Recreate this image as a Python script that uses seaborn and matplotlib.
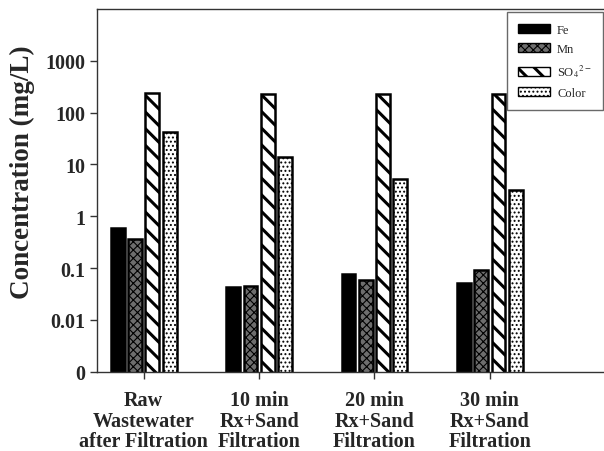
import numpy as np
import pandas as pd
import matplotlib
matplotlib.use("Agg")
import matplotlib.pyplot as plt
import seaborn as sns
from matplotlib.ticker import FixedLocator, NullLocator

# ---- data ----
groups = ["Raw\nWastewater\nafter Filtration", "10 min\nRx+Sand\nFiltration",
          "20 min\nRx+Sand\nFiltration", "30 min\nRx+Sand\nFiltration"]
series = ["Fe", "Mn", "SO$_4$$^{2-}$", "Color"]
fe = [0.59, 0.044, 0.077, 0.051]
mn = [0.37, 0.046, 0.059, 0.092]
so4 = [234, 226, 229, 228]
color = [42.5, 14.2, 5.2, 3.2]
ytick_vals = [0.001, 0.01, 0.1, 1, 10, 100, 1000]
ytick_labels = ["0", "0.01", "0.1", "1", "10", "100", "1000"]

rows = []
for name, vals in zip(series, [fe, mn, so4, color]):
    for g, v in zip(groups, vals):
        rows.append({"group": g, "series": name, "value": v})
df = pd.DataFrame(rows)

sns.set_style("white")
plt.rcParams["font.family"] = ["Liberation Serif", "DejaVu Serif"]
plt.rcParams["mathtext.fontset"] = "stix"
plt.rcParams["hatch.linewidth"] = 2.0

fig = plt.figure(figsize=(6.04, 4.52), dpi=100)
ax = fig.add_axes([97/604, 1 - 372.7/452, 1 - 97/604, (372.7 - 10)/452])

palette = {"Fe": "black", "Mn": "#6e6e6e", "SO$_4$$^{2-}$": "white", "Color": "white"}
sns.barplot(data=df, x="group", y="value", hue="series", order=groups,
            hue_order=series, palette=palette, width=0.6, gap=0.2,
            edgecolor="black", linewidth=1.8, ax=ax, log_scale=True,
            legend=True, saturation=1)

hatches = [None, "xxxx", "\\\\", "...."]
hatch_lw = [None, 0.8, 2.2, 0.9]
hatch_col = [None, "#222222", "black", "#555555"]


def style_patch(p, h, lw, hc):
    if h:
        p.set_hatch(h)
        if hasattr(p, "set_hatch_linewidth"):
            p.set_hatch_linewidth(lw)
        if hasattr(p, "set_hatchcolor"):
            p.set_hatchcolor(hc)


for cont, h, lw, hc in zip(ax.containers, hatches, hatch_lw, hatch_col):
    for p in cont:
        style_patch(p, h, lw, hc)

ax.set_yscale("log")
ax.set_ylim(0.001, 10000)
ax.set_xlim(-0.405, 3.99)
ax.yaxis.set_major_locator(FixedLocator(ytick_vals))
ax.yaxis.set_minor_locator(NullLocator())
ax.set_yticklabels(ytick_labels)
ax.set_xlabel("")
ax.set_ylabel("Concentration (mg/L)", fontsize=19.5, fontweight="bold")
ax.yaxis.set_label_coords(-0.122, 0.552)

ax.spines["right"].set_visible(False)
for s in ["left", "top", "bottom"]:
    ax.spines[s].set_visible(True)
    ax.spines[s].set_color("#333333")
    ax.spines[s].set_linewidth(1.0)

ax.tick_params(axis="both", which="major", direction="out", length=5, width=1,
               color="#333333", left=True, bottom=True)
ax.tick_params(axis="x", pad=8)
for lab in ax.get_yticklabels():
    lab.set_fontsize(14.5)
    lab.set_fontweight("bold")
for lab in ax.get_xticklabels():
    lab.set_fontsize(14.5)
    lab.set_fontweight("bold")
    lab.set_linespacing(1.05)

leg = ax.legend(loc="upper right", bbox_to_anchor=(602.7/604, 1 - 13.3/452),
                bbox_transform=fig.transFigure, fontsize=9, frameon=True,
                fancybox=False, edgecolor="#444444", handlelength=2.5,
                handleheight=0.75, labelspacing=0.6, borderpad=0.9,
                handletextpad=0.6, borderaxespad=0)
leg.set_zorder(20)
leg.get_frame().set_linewidth(1.0)
for h, hh, lw, hc in zip(leg.legend_handles, hatches, hatch_lw, hatch_col):
    h.set_linewidth(1.0)
    style_patch(h, hh, lw, hc)

fig.savefig("out.png", dpi=100)
